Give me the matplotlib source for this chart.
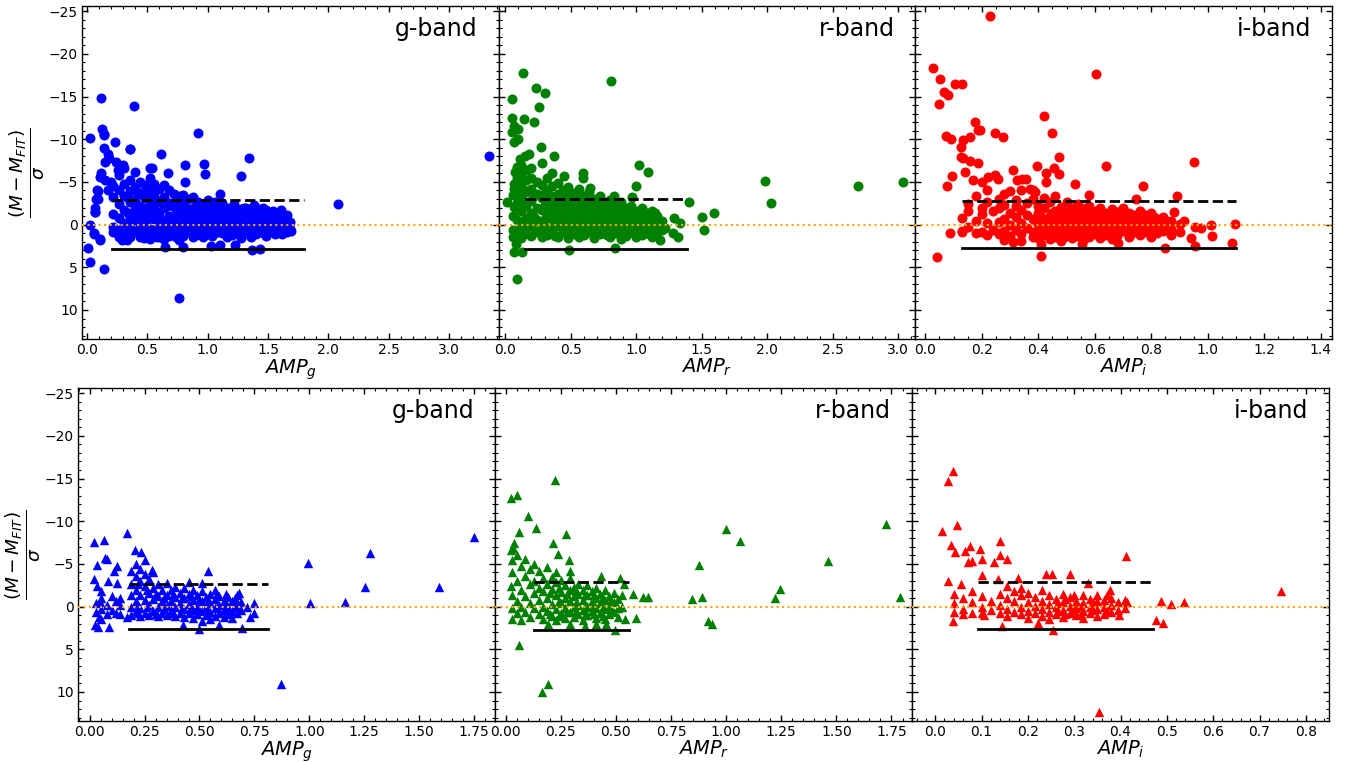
import numpy as np
import matplotlib
matplotlib.use("Agg")
import matplotlib.pyplot as plt
from matplotlib.ticker import AutoMinorLocator, MultipleLocator

# ---------------- data ----------------
# Top row (circles): scattered / isolated points
top_g_pts = [(0.12, -14.8), (0.39, -13.9), (0.03, -10.1), (0.124, -11.25), (0.146, -10.5),
             (0.23, -9.72), (0.92, -10.78), (0.36, -8.82), (0.61, -8.27), (1.345, -7.76),
             (3.33, -8.08), (2.08, -2.37), (0.815, -6.98), (0.97, -7.05), (0.98, -5.97),
             (1.28, -5.73), (1.10, -3.55), (0.67, -6.08), (0.54, -6.68), (0.52, -6.68),
             (0.815, -5.03), (1.30, -1.9), (1.61, -1.75), (1.69, 0.79), (0.01, 2.75),
             (0.03, 4.35), (0.14, 5.25), (0.765, 8.65), (0.03, 0.0), (0.06, 1.1), (0.11, 1.8),
             (0.09, -3.0), (0.09, -3.98), (0.065, -1.5), (0.07, -1.9), (1.37, 2.98),
             (1.43, 2.83), (0.65, 2.6), (0.80, 2.6), (1.03, 2.45), (1.10, 2.4), (1.23, 2.4),
             (0.295, 1.8), (0.33, 1.75), (0.47, 1.6), (0.62, 1.6), (0.14, -10.6),
             (0.146, -9.0), (0.174, -8.3), (0.356, -8.8), (0.15, -7.33), (0.243, -7.33),
             (0.30, -6.95), (0.257, -6.36), (0.118, -6.04), (0.105, -5.57), (0.15, -5.19),
             (0.085, -4.0), (0.174, -4.0), (0.077, -3.04), (0.069, -1.47), (0.063, 1.0),
             (0.113, 1.65), (0.18, -7.8), (0.20, -5.0)]
top_g_cols = [(0.22, [-4.5, -3.2, -1.2, 0.3, 0.9]), (0.27, [-5.8, -4.0, -2.4, -0.8, 0.6, 1.4]),
              (0.31, [-6.6, -4.8, -3.3, -1.7, -0.2, 1.0]), (0.36, [-5.2, -3.9, -2.6, -1.0, 0.4, 1.5]),
              (0.40, [-6.2, -4.4, -2.9, -1.8, -0.5, 0.8]), (0.44, [-5.0, -3.7, -2.2, -0.9, 0.3, 1.4]),
              (0.48, [-4.6, -3.1, -1.6, -0.2, 0.9]), (0.52, [-5.4, -4.1, -2.5, -1.1, 0.5, 1.7]),
              (0.56, [-4.8, -3.4, -2.0, -0.6, 0.7]), (0.60, [-4.2, -2.8, -1.3, 0.1, 1.2]),
              (0.64, [-4.6, -3.2, -1.9, -0.4, 0.8, 1.7]), (0.68, [-4.0, -2.5, -1.0, 0.3, 1.3]),
              (0.72, [-3.6, -2.1, -0.7, 0.6]), (0.76, [-3.3, -2.7, -1.4, 0.0, 1.1, 1.8]),
              (0.80, [-3.5, -2.3, -0.9, 0.4, 1.3]), (0.84, [-3.0, -1.6, -0.3, 0.8]),
              (0.88, [-3.2, -2.0, -0.8, 0.5, 1.4]), (0.92, [-2.7, -1.4, -0.1, 1.0]),
              (0.96, [-2.4, -1.8, -0.6, 0.6, 1.5]), (1.00, [-2.9, -1.2, 0.1, 1.1]),
              (1.04, [-2.2, -0.9, 0.4, 1.3]), (1.08, [-1.8, -0.5, 0.8]),
              (1.12, [-2.5, -1.3, -0.1, 1.0]), (1.16, [-1.9, -0.7, 0.5, 1.5]),
              (1.20, [-2.1, -1.0, 0.2, 1.2]), (1.24, [-1.5, -0.4, 0.7]),
              (1.28, [-1.8, -0.8, 0.3, 1.6]), (1.32, [-2.0, -1.2, 0.0, 1.0]),
              (1.36, [-1.6, -0.5, 0.6, 1.4]), (1.40, [-1.9, -0.9, 0.2, 1.1]),
              (1.44, [-1.4, -0.3, 0.8]), (1.48, [-1.7, -0.6, 0.4, 1.3]),
              (1.52, [-1.1, 0.0, 0.9]), (1.56, [-0.8, 0.3, 1.1]), (1.60, [-1.2, -0.2, 0.7]),
              (1.64, [-0.6, 0.2]), (1.68, [-0.3, 0.5])]
top_g_fill = [(0.34, [-3.1, -1.4, 0.0, 1.1]), (0.42, [-3.6, -1.2, 0.9]), (0.50, [-3.8, -2.0, -0.5, 1.2]),
              (0.58, [-2.6, -1.0, 0.4, 1.5]), (0.66, [-2.2, -0.7, 0.9]), (0.74, [-2.9, -1.1, 0.3, 1.4]),
              (0.82, [-1.9, -0.6, 0.9]), (0.90, [-2.3, -1.1, 0.2, 1.2]), (0.98, [-1.4, -0.2, 0.9]),
              (1.06, [-2.6, -1.3, 0.0, 1.0]), (1.14, [-1.6, -0.4, 0.6]), (1.22, [-2.4, -1.3, 0.0, 0.9]),
              (1.30, [-1.3, -0.1, 0.8]), (1.38, [-2.3, -1.2, 0.1, 0.9]), (1.46, [-1.9, -1.0, 0.1, 1.0]),
              (1.54, [-1.6, -0.4, 0.5]), (1.62, [-0.9, 0.3, 1.1]), (1.66, [-1.1, 0.9])]

top_r_pts = [(0.134, -17.8), (0.81, -16.83), (0.235, -16.0), (0.30, -15.4), (0.26, -13.75),
             (0.053, -14.7), (0.048, -12.5), (0.144, -12.4), (0.218, -12.07), (0.063, -11.5),
             (0.099, -11.25), (0.053, -10.8), (0.099, -10.0), (0.063, -9.7), (0.276, -9.14),
             (0.374, -8.0), (1.02, -7.03), (1.09, -6.2), (1.0, -4.5), (1.98, -5.07), (2.03, -2.5),
             (2.69, -4.5), (3.035, -5.0), (0.013, -2.69), (0.063, -2.06), (1.40, -2.69),
             (1.50, -0.93), (1.59, -1.4), (1.52, 0.67), (0.068, 3.2), (0.131, 3.2), (0.091, 6.34),
             (0.49, 3.0), (0.84, 2.8), (0.084, 2.3), (0.068, -4.8), (0.068, -4.2), (0.076, -6.2),
             (0.11, -7.7), (0.185, -8.3), (0.28, -7.2), (0.45, -5.7), (0.59, -6.0), (0.36, -6.1),
             (0.65, -4.3), (0.83, -3.3), (0.97, -3.2), (1.29, -0.8), (1.33, -0.2), (1.32, 1.5),
             (1.28, 0.95), (1.22, 0.36), (1.18, 1.85), (0.59, -5.5), (0.15, -8.0)]
top_r_cols = [(0.06, [-3.5, -1.0, 0.6, 1.5]), (0.09, [-6.8, -5.5, -4.0, -2.5, -0.5, 1.0]),
              (0.12, [-7.0, -5.9, -4.6, -3.1, -1.6, 0.2, 1.6]), (0.16, [-6.4, -5.2, -3.8, -2.2, -0.8, 0.7]),
              (0.20, [-6.6, -5.5, -4.2, -2.8, -1.3, 0.1, 1.3]), (0.24, [-5.0, -3.6, -2.0, -0.5, 0.9]),
              (0.28, [-4.6, -3.1, -1.7, -0.1, 1.5]), (0.32, [-5.4, -4.0, -2.6, -1.1, 0.4, 1.2]),
              (0.36, [-4.5, -3.3, -1.9, -0.6, 0.8]), (0.40, [-4.9, -3.6, -2.3, -0.9, 0.2, 1.4]),
              (0.44, [-4.1, -2.8, -1.5, -0.3, 0.9]), (0.48, [-4.4, -3.1, -1.9, -0.7, 0.5, 1.6]),
              (0.52, [-3.7, -2.5, -1.2, 0.0, 1.1]), (0.56, [-4.2, -2.9, -1.6, -0.4, 0.7, 1.5]),
              (0.60, [-3.4, -2.2, -1.0, 0.3, 1.2]), (0.64, [-3.8, -2.6, -1.4, -0.1, 0.9]),
              (0.68, [-3.0, -1.9, -0.7, 0.5, 1.6]), (0.72, [-3.3, -2.2, -1.0, 0.2, 1.1]),
              (0.76, [-2.7, -1.5, -0.4, 0.8]), (0.80, [-2.9, -1.8, -0.7, 0.4, 1.4]),
              (0.84, [-2.3, -1.2, 0.0, 1.0]), (0.88, [-2.6, -1.5, -0.3, 0.7, 1.7]),
              (0.92, [-2.0, -0.9, 0.3, 1.3]), (0.96, [-2.2, -1.2, 0.0, 0.9]),
              (1.00, [-1.6, -0.6, 0.5, 1.5]), (1.04, [-1.9, -0.9, 0.2, 1.2]),
              (1.08, [-1.4, -0.3, 0.8]), (1.12, [-1.6, -0.6, 0.4, 1.4]),
              (1.16, [-1.0, 0.1, 1.0]), (1.20, [-0.4, 0.6])]
top_r_fill = [(0.14, [-4.1, -2.6, -0.2, 1.1]), (0.22, [-3.3, -0.9, 0.6]), (0.30, [-3.7, -2.3, -0.7, 0.8]),
              (0.38, [-2.7, -1.3, 0.1, 1.3]), (0.46, [-3.5, -2.2, -0.9, 0.4]), (0.54, [-3.1, -1.9, -0.6, 0.6]),
              (0.62, [-2.8, -1.6, -0.5, 0.8]), (0.70, [-2.5, -1.3, 0.0, 1.0]), (0.78, [-2.1, -1.0, 0.2, 1.2]),
              (0.86, [-1.8, -0.7, 0.5]), (0.94, [-1.5, -0.4, 0.8]), (1.02, [-1.2, 0.0, 1.0]),
              (1.10, [-0.9, 0.2, 1.1]), (1.14, [-1.3, 0.8])]

top_i_pts = [(0.229, -24.4), (0.027, -18.3), (0.604, -17.6), (0.052, -17.0), (0.105, -16.5),
             (0.13, -16.5), (0.068, -15.47), (0.082, -15.2), (0.047, -14.1), (0.42, -12.77),
             (0.175, -12.07), (0.187, -11.05), (0.192, -11.1), (0.245, -10.74), (0.274, -10.2),
             (0.447, -10.74), (0.074, -10.38), (0.09, -10.0), (0.134, -9.96), (0.158, -10.26),
             (0.127, -9.06), (0.127, -7.9), (0.134, -7.85), (0.157, -7.4), (0.185, -7.18),
             (0.141, -6.13), (0.096, -5.66), (0.077, -4.57), (0.223, -5.54), (0.245, -5.77),
             (0.169, -5.27), (0.199, -5.0), (0.259, -5.3), (0.31, -6.36), (0.395, -6.87),
             (0.455, -6.63), (0.473, -7.92), (0.428, -6.05), (0.473, -5.9), (0.639, -6.83),
             (0.95, -7.3), (0.326, -5.27), (0.343, -5.3), (0.357, -5.3), (0.428, -5.04),
             (0.53, -4.75), (0.77, -4.52), (0.58, -3.43), (0.746, -3.0), (0.89, -3.3),
             (0.88, -1.47), (0.917, -0.46), (0.955, 0.32), (0.975, 0.4), (1.01, 0.0),
             (1.015, 1.34), (1.095, -0.03), (1.087, 2.1), (0.85, 2.8), (0.955, 2.5), (0.94, 1.6),
             (0.04, 3.8), (0.41, 3.7), (0.41, 2.28), (0.556, 2.28), (0.683, 2.1), (0.088, 0.94),
             (0.13, 0.87), (0.31, 2.0), (0.26, 1.1), (0.37, -4.2), (0.39, -3.8), (0.30, -3.9)]
top_i_cols = [(0.13, [-0.8, 0.8]), (0.15, [-2.4, -1.6, 0.3]), (0.18, [-3.4, -0.4, 1.0]),
              (0.20, [-2.0, -1.2, 0.9]), (0.22, [-4.0, -2.6, -0.2, 1.2]), (0.24, [-1.6, 0.6]),
              (0.26, [-3.0, -1.9, -0.3, 1.0]), (0.28, [-3.6, -2.3, -0.6, 0.8, 1.8]),
              (0.30, [-1.4, 0.1, 1.3]), (0.32, [-2.9, -2.2, -0.9, 0.6]),
              (0.34, [-4.1, -1.7, -0.2, 1.1, 1.9]), (0.36, [-2.5, -1.1, 0.4]),
              (0.38, [-4.0, -3.0, -0.7, 0.9, 1.5]), (0.40, [-2.2, -1.4, -0.1, 0.7, 1.6]),
              (0.42, [-3.1, -1.9, -0.5, 0.3, 1.2]), (0.44, [-2.6, -1.0, 0.0, 0.9, 1.7]),
              (0.46, [-3.4, -1.6, -0.6, 0.5, 1.4]), (0.48, [-2.1, -1.1, -0.2, 0.7, 1.9]),
              (0.50, [-2.7, -1.5, -0.7, 0.2, 1.2]), (0.52, [-1.9, -0.9, 0.0, 0.8, 1.6]),
              (0.54, [-2.4, -1.3, -0.4, 0.5, 1.3]), (0.56, [-1.7, -0.8, 0.1, 1.0, 1.8]),
              (0.58, [-2.2, -1.2, -0.3, 0.6, 1.4]), (0.60, [-1.6, -0.6, 0.3, 1.1]),
              (0.62, [-2.0, -1.0, -0.1, 0.8, 1.6]), (0.64, [-1.4, -0.5, 0.4, 1.2]),
              (0.66, [-1.8, -0.8, 0.1, 0.9, 1.7]), (0.68, [-1.2, -0.3, 0.6, 1.3]),
              (0.70, [-1.9, -0.9, 0.0, 0.8]), (0.72, [-1.4, -0.4, 0.5, 1.4]),
              (0.74, [-1.1, -0.1, 0.7]), (0.76, [-1.6, -0.6, 0.3, 1.2]),
              (0.78, [-1.0, 0.0, 0.9]), (0.80, [-1.3, -0.3, 0.6, 1.4]),
              (0.82, [-0.7, 0.2, 1.0]), (0.84, [-0.9, 0.1, 0.8]),
              (0.87, [-0.4, 0.5, 1.2]), (0.90, [-0.1, 0.9])]
top_i_fill = [(0.41, [-0.9, 0.2, 1.0]), (0.45, [-1.3, -0.3, 1.2]), (0.49, [-0.6, 0.4, 1.4]),
              (0.53, [-1.4, -0.5, 0.4]), (0.57, [-2.0, -0.3, 0.6]), (0.61, [-1.1, -0.1, 0.9]),
              (0.65, [-1.0, 0.0, 1.0]), (0.69, [-1.6, -0.6, 0.3]), (0.73, [-0.8, 0.2, 1.0]),
              (0.77, [-1.2, 0.7]), (0.81, [-0.9, 0.1, 0.9]), (0.85, [-0.5, 0.4])]

# Bottom row (triangles)
bot_g_pts = [(0.02, -7.56), (0.067, -7.83), (0.168, -8.66), (1.75, -8.15), (0.993, -5.13),
             (1.274, -6.3), (1.254, -2.3), (1.59, -2.27), (1.005, -0.46), (1.162, -0.5),
             (0.873, 9.1), (0.538, -4.19), (0.035, -4.86), (0.02, -3.25), (0.08, -5.6),
             (0.07, -5.7), (0.125, -4.74), (0.11, -4.22), (0.083, -2.98), (0.125, -2.74),
             (0.035, -2.43), (0.053, -1.88), (0.023, 2.2), (0.038, 2.36), (0.09, 2.36),
             (0.205, -6.66), (0.234, -6.4), (0.286, -4.3), (0.425, 2.2), (0.5, 2.63),
             (0.59, 2.13), (0.693, 2.55), (0.716, 0.0), (0.75, -0.46), (0.748, 0.71),
             (0.728, 1.18), (0.68, -1.64), (0.17, 1.26), (0.042, 1.18), (0.045, -0.5),
             (0.45, -2.9), (0.51, -2.8)]
bot_g_cols = [(0.03, [-0.4, 0.6]), (0.05, [-1.0, 0.3, 1.4]), (0.08, [-0.2, 0.9]),
              (0.10, [-1.2, 0.4]), (0.12, [-0.7, 0.7]), (0.14, [-1.0, -0.2, 0.9]),
              (0.19, [-4.2, -2.6, -1.4, 0.0, 1.0]), (0.21, [-5.0, -3.6, -2.0, -0.6, 0.5]),
              (0.23, [-4.4, -3.0, -1.3, 0.2, 1.1]), (0.25, [-5.4, -3.8, -2.4, -0.8, 0.7]),
              (0.27, [-3.2, -1.6, -0.2, 1.0]), (0.29, [-4.0, -2.2, -0.9, 0.5]),
              (0.31, [-2.6, -1.2, 0.1, 1.1]), (0.33, [-2.0, -0.6, 0.7]),
              (0.35, [-2.8, -1.4, -0.1, 1.0]), (0.37, [-1.9, -0.7, 0.4]),
              (0.39, [-2.3, -1.1, 0.1, 1.1]), (0.41, [-1.6, -0.4, 0.7]),
              (0.43, [-2.2, -1.0, 0.3, 1.2]), (0.45, [-1.5, -0.3, 0.8]),
              (0.47, [-1.9, -0.8, 0.4, 1.3]), (0.49, [-1.3, -0.1, 0.9]),
              (0.51, [-1.8, -0.6, 0.5, 1.7]), (0.53, [-1.1, 0.1, 1.0]),
              (0.55, [-1.5, -0.4, 0.6, 1.4]), (0.57, [-2.0, -0.9, 0.2, 1.1]),
              (0.59, [-1.2, -0.2, 0.8]), (0.61, [-0.7, 0.4, 1.2]), (0.63, [-1.1, 0.0, 0.9]),
              (0.65, [-0.6, 0.5, 1.3]), (0.67, [-1.3, -0.2, 0.8]), (0.69, [-0.5, 0.4])]
bot_g_fill = [(0.22, [-2.6, -0.2, 0.8]), (0.26, [-2.0, 0.1]), (0.30, [-1.5, 0.9]),
              (0.34, [-1.0, 0.3]), (0.38, [-1.4, 0.8]), (0.42, [-1.0, 0.2]),
              (0.46, [-1.2, 0.1]), (0.50, [-0.9, 0.3]), (0.54, [-0.6, 0.5]),
              (0.58, [-1.5, 0.0]), (0.62, [-1.5, -0.3]), (0.66, [-1.0, 0.1])]

bot_r_pts = [(0.023, -12.69), (0.051, -13.09), (0.226, -14.81), (0.102, -10.66), (0.139, -9.16),
             (0.059, -8.77), (0.273, -8.54), (0.213, -7.4), (0.237, -6.11), (0.287, -5.4),
             (0.29, -4.19), (0.034, -6.86), (0.025, -6.6), (0.038, -7.45), (1.0, -9.04),
             (1.065, -7.63), (0.878, -4.89), (1.462, -5.32), (1.726, -9.63), (1.788, -1.1),
             (1.245, -2.04), (1.224, -0.98), (0.89, -1.17), (0.847, -0.9), (0.917, 1.69),
             (0.937, 2.08), (0.06, 4.47), (0.191, 9.1), (0.167, 10.04), (0.496, 2.78),
             (0.54, 1.49), (0.59, 1.3), (0.578, -1.51), (0.647, -1.1), (0.625, -1.13),
             (0.535, -2.62), (0.52, -3.33), (0.433, -3.6), (0.023, -2.43), (0.193, 2.0),
             (0.29, 2.05), (0.359, 2.28), (0.457, 2.08), (0.41, 2.0)]
bot_r_cols = [(0.03, [-5.5, -4.0, -1.4, 0.2, 1.4]), (0.05, [-6.0, -3.0, -0.6, 0.8]),
              (0.07, [-4.8, -2.0, 0.0, 1.6]), (0.09, [-5.6, -3.6, -1.2, 0.6]),
              (0.11, [-4.4, -2.6, -0.4, 1.2]), (0.13, [-5.0, -3.0, -1.6, 0.2]),
              (0.15, [-4.2, -2.2, -0.8, 0.9]), (0.17, [-3.4, -1.8, 0.0, 1.5]),
              (0.19, [-4.6, -2.7, -1.0, 0.5]), (0.21, [-3.5, -2.1, -0.3, 1.1]),
              (0.23, [-4.0, -2.9, -1.3, 0.3, 1.6]), (0.25, [-3.1, -1.7, -0.4, 0.8]),
              (0.27, [-2.5, -1.0, 0.2, 1.3]), (0.29, [-3.3, -1.9, -0.6, 0.6]),
              (0.31, [-2.3, -1.2, 0.0, 1.2]), (0.33, [-2.7, -1.5, -0.2, 0.9]),
              (0.35, [-2.0, -0.8, 0.4, 1.6]), (0.37, [-2.5, -1.3, -0.1, 1.0]),
              (0.39, [-1.8, -0.6, 0.5]), (0.41, [-2.2, -1.0, 0.2, 1.3]),
              (0.43, [-1.5, -0.4, 0.8]), (0.45, [-1.9, -0.8, 0.3, 1.4]),
              (0.47, [-1.2, -0.1, 0.9]), (0.49, [-1.6, -0.5, 0.6]),
              (0.51, [-0.9, 0.2, 1.2]), (0.53, [-1.3, 0.0])]
bot_r_fill = [(0.20, [-1.6, 0.9]), (0.24, [-2.2, -0.6, 1.1]), (0.28, [-1.5, 0.6]),
              (0.32, [-1.8, -0.4, 0.5]), (0.36, [-1.4, 0.0, 1.0]), (0.40, [-1.3, -0.2, 0.9]),
              (0.44, [-1.0, 0.2, 1.1]), (0.48, [-0.8, 0.3])]

bot_i_pts = [(0.038, -15.83), (0.028, -14.65), (0.047, -9.52), (0.014, -8.85), (0.034, -7.2),
             (0.042, -6.42), (0.065, -6.5), (0.076, -7.1), (0.096, -6.74), (0.141, -7.63),
             (0.14, -5.99), (0.154, -5.56), (0.126, -5.25), (0.07, -5.28), (0.08, -5.3),
             (0.1, -5.56), (0.412, -5.95), (0.746, -1.8), (0.027, -2.97), (0.039, 1.73),
             (0.06, 0.9), (0.145, 2.31), (0.255, 2.78), (0.353, 12.35), (0.477, 1.58),
             (0.491, 1.96), (0.487, -0.7), (0.51, -0.31), (0.538, -0.5), (0.413, -0.5),
             (0.396, 1.02), (0.378, -1.92), (0.33, -2.74), (0.29, -3.8), (0.252, -3.87),
             (0.24, -3.8), (0.178, -3.4), (0.136, -3.25), (0.101, -3.75), (0.055, -2.66),
             (0.221, 1.89), (0.105, 0.99)]
bot_i_cols = [(0.04, [-1.5, -0.4, 0.6]), (0.06, [-1.0, 0.3]), (0.08, [-1.8, -0.5, 0.7]),
              (0.10, [-1.2, 0.0, 0.8]), (0.12, [-0.6, 0.4]), (0.14, [-1.5, -0.2, 0.7]),
              (0.155, [-2.4, -1.0, 0.3, 1.1]), (0.17, [-1.8, -0.6, 0.6]),
              (0.185, [-2.2, -1.3, 0.0, 0.9]), (0.20, [-1.6, -0.5, 0.5, 1.3]),
              (0.215, [-1.1, -0.1, 0.8]), (0.23, [-1.9, -0.7, 0.3, 1.1]),
              (0.245, [-1.3, -0.3, 0.6, 1.4]), (0.26, [-0.9, 0.1, 0.9]),
              (0.275, [-1.5, -0.5, 0.4, 1.2]), (0.29, [-1.1, -0.1, 0.7]),
              (0.305, [-0.7, 0.2, 1.0]), (0.32, [-1.3, -0.4, 0.5, 1.3]),
              (0.335, [-0.9, 0.0, 0.8]), (0.35, [-1.4, -0.6, 0.3, 1.1]),
              (0.365, [-0.8, 0.1, 0.9]), (0.38, [-1.0, -0.2, 0.6]),
              (0.395, [-0.5, 0.4]), (0.41, [-0.8, 0.2])]
bot_i_fill = [(0.265, [-0.4, 0.5]), (0.28, [-0.9, 0.9]), (0.30, [-1.4, 0.4]),
              (0.315, [-0.1, 0.9]), (0.34, [-0.5, 0.4]), (0.37, [-1.3, 0.5])]

# reference lines per panel: (x_start, x_end, upper (dashed) level, lower (solid) level)
ref_lines = {
    "top_g": (0.21, 1.80, -2.93, 2.86),
    "top_r": (0.15, 1.39, -2.95, 2.90),
    "top_i": (0.13, 1.10, -2.80, 2.80),
    "bot_g": (0.18, 0.81, -2.70, 2.60),
    "bot_r": (0.13, 0.56, -2.90, 2.70),
    "bot_i": (0.093, 0.471, -2.90, 2.66),
}
x_limits = {
    "top_g": (-0.04, 3.41), "top_r": (-0.05, 3.13), "top_i": (-0.035, 1.44),
    "bot_g": (-0.053, 1.845), "bot_r": (-0.048, 1.843), "bot_i": (-0.05, 0.85),
}
x_major = {"top_g": 0.5, "top_r": 0.5, "top_i": 0.2, "bot_g": 0.25, "bot_r": 0.25, "bot_i": 0.1}
band_labels = {"g": "g-band", "r": "r-band", "i": "i-band"}
band_colors = {"g": "blue", "r": "green", "i": "red"}
x_labels = {"g": r"$AMP_g$", "r": r"$AMP_r$", "i": r"$AMP_i$"}
y_label = r"$\frac{(M-M_{FIT})}{\sigma}$"


def expand(pts, *col_sets):
    xs = [p[0] for p in pts]
    ys = [p[1] for p in pts]
    for cols in col_sets:
        for cx, cys in cols:
            for cy in cys:
                xs.append(cx)
                ys.append(cy)
    return np.array(xs), np.array(ys)


panels = {
    "top_g": expand(top_g_pts, top_g_cols, top_g_fill),
    "top_r": expand(top_r_pts, top_r_cols, top_r_fill),
    "top_i": expand(top_i_pts, top_i_cols, top_i_fill),
    "bot_g": expand(bot_g_pts, bot_g_cols, bot_g_fill),
    "bot_r": expand(bot_r_pts, bot_r_cols, bot_r_fill),
    "bot_i": expand(bot_i_pts, bot_i_cols, bot_i_fill),
}

# ---------------- figure ----------------
fig = plt.figure(figsize=(13.46, 7.62), dpi=100)
W, H = 1346.0, 762.0
rows = {"top": (82, 6, 339, 416.7, "o", 52), "bot": (78, 388, 721, 417.0, "^", 46)}

for row, (x0, ytop, ybot, w, marker, msize) in rows.items():
    for k, band in enumerate(["g", "r", "i"]):
        key = f"{row}_{band}"
        ax = fig.add_axes([(x0 + k * w) / W, 1 - ybot / H, w / W, (ybot - ytop) / H])
        xs, ys = panels[key]
        ax.scatter(xs, ys, s=msize, marker=marker, color=band_colors[band],
                   linewidths=0, zorder=3, clip_on=True)
        ax.axhline(0, color="orange", linestyle=":", linewidth=1.5, zorder=4)
        xa, xb, up, lo = ref_lines[key]
        ax.plot([xa, xb], [up, up], color="black", linestyle="--", linewidth=2, zorder=5)
        ax.plot([xa, xb], [lo, lo], color="black", linestyle="-", linewidth=2, zorder=5)
        ax.set_xlim(*x_limits[key])
        ax.set_ylim(13.4, -25.6)
        ax.xaxis.set_major_locator(MultipleLocator(x_major[key]))
        ax.yaxis.set_major_locator(MultipleLocator(5))
        ax.xaxis.set_minor_locator(AutoMinorLocator())
        ax.yaxis.set_minor_locator(AutoMinorLocator())
        ax.tick_params(which="both", direction="in", top=True, right=True, labelsize=10)
        ax.tick_params(which="major", length=4, width=1, pad=3)
        ax.tick_params(which="minor", length=2, width=0.8)
        for sp in ax.spines.values():
            sp.set_linewidth(1.0)
        if k > 0:
            ax.tick_params(labelleft=False)
        else:
            ax.set_ylabel(y_label, fontsize=19, labelpad=1)
        ax.set_xlabel(x_labels[band], fontsize=14, labelpad=0)
        ax.text(0.95, 0.93, band_labels[band], transform=ax.transAxes, ha="right",
                va="center", fontsize=17)

fig.savefig("out.png", dpi=100)
